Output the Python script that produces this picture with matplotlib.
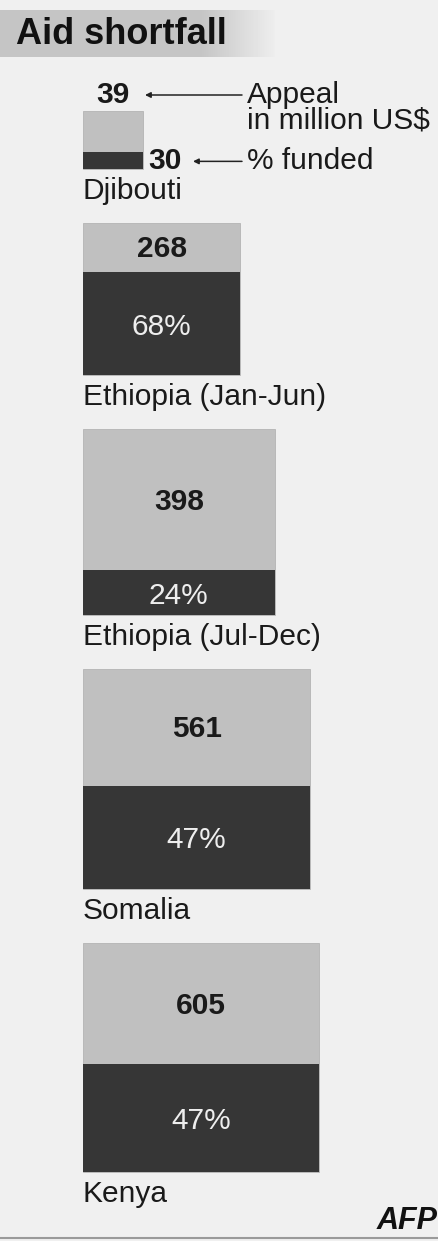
import numpy as np
import matplotlib
matplotlib.use("Agg")
import matplotlib.pyplot as plt

# ---- data ----
countries = ["Djibouti", "Ethiopia (Jan-Jun)", "Ethiopia (Jul-Dec)", "Somalia", "Kenya"]
appeal = [39, 268, 398, 561, 605]          # million US$
funded_pct = [30, 68, 24, 47, 47]          # % funded
title = "Aid shortfall"

# ---- style / layout ----
W, H = 439, 1241
bg = "#f0f0f0"
light = "#c0c0c0"
dark = "#363636"
font = "Liberation Sans"
x0 = 83
kw, kh = 9.6, 9.3      # px per sqrt(million US$)
top0, gap = 111, 54
fs = 21.5

fig = plt.figure(figsize=(W / 100, H / 100), dpi=100, facecolor=bg)
ax = fig.add_axes([0, 0, 1, 1])
ax.set_xlim(0, W)
ax.set_ylim(H, 0)
ax.axis("off")
ax.set_facecolor(bg)

# title banner with fade
grad = np.concatenate([np.full(200, 0.77), np.linspace(0.77, 0.93, 75)])
ax.imshow(grad[None, :], extent=[0, 275, 57, 10], cmap="gray", vmin=0, vmax=1,
          aspect="auto", zorder=1)
ax.text(16, 34, title, fontsize=26, fontweight="bold", family=font,
        color="#111111", va="center", ha="left", zorder=2)

top = top0
for i, (name, v, p) in enumerate(zip(countries, appeal, funded_pct)):
    w = kw * np.sqrt(v)
    h = kh * np.sqrt(v)
    dh = h * p / 100.0
    ax.bar(x0, h, width=w, bottom=top, align="edge", color=light,
           edgecolor="#b4b4b4", linewidth=0.6, zorder=3)
    ax.bar(x0, dh, width=w, bottom=top + h - dh, align="edge", color=dark,
           linewidth=0, zorder=4)
    cx = x0 + w / 2
    bottom = top + h
    if i == 0:
        ax.text(cx, top - 16, str(v), fontsize=fs, fontweight="bold", family=font,
                color="#1a1a1a", ha="center", va="center", zorder=5)
        ax.text(x0 + w + 5, bottom - dh / 2 + 1, str(p), fontsize=fs,
                fontweight="bold", family=font, color="#1a1a1a",
                ha="left", va="center", zorder=5)
        # legend arrows
        ax.annotate("", xy=(145, top - 16), xytext=(242, top - 16),
                    arrowprops=dict(arrowstyle="-|>", color="#222222", lw=1.1,
                                    mutation_scale=8, shrinkA=0, shrinkB=0))
        ax.annotate("", xy=(193, bottom - dh / 2 + 1), xytext=(242, bottom - dh / 2 + 1),
                    arrowprops=dict(arrowstyle="-|>", color="#222222", lw=1.1,
                                    mutation_scale=8, shrinkA=0, shrinkB=0))
        ax.text(247, top - 30, "Appeal\nin million US$", fontsize=fs, family=font,
                color="#1a1a1a", ha="left", va="top", linespacing=0.9, zorder=5)
        ax.text(247, bottom - dh / 2 + 1, "% funded", fontsize=fs, family=font,
                color="#1a1a1a", ha="left", va="center", zorder=5)
    else:
        ax.text(cx, top + (h - dh) / 2 + 2, str(v), fontsize=fs, fontweight="bold",
                family=font, color="#1a1a1a", ha="center", va="center", zorder=5)
        ax.text(cx, bottom - dh / 2 + 3, f"{p}%", fontsize=fs, family=font,
                color="#eeeeee", ha="center", va="center", zorder=5)
    ax.text(x0, bottom + 8, name, fontsize=fs, family=font, color="#1a1a1a",
            ha="left", va="top", zorder=5)
    top = bottom + gap

# AFP logo & bottom rule
ax.text(438, 1221, "AFP", fontsize=22, fontweight="bold", fontstyle="italic",
        family=font, color="#111111", ha="right", va="center")
ax.axhline(1238, color="#9a9a9a", lw=1.5)

fig.savefig("out.png", dpi=100, facecolor=bg)
